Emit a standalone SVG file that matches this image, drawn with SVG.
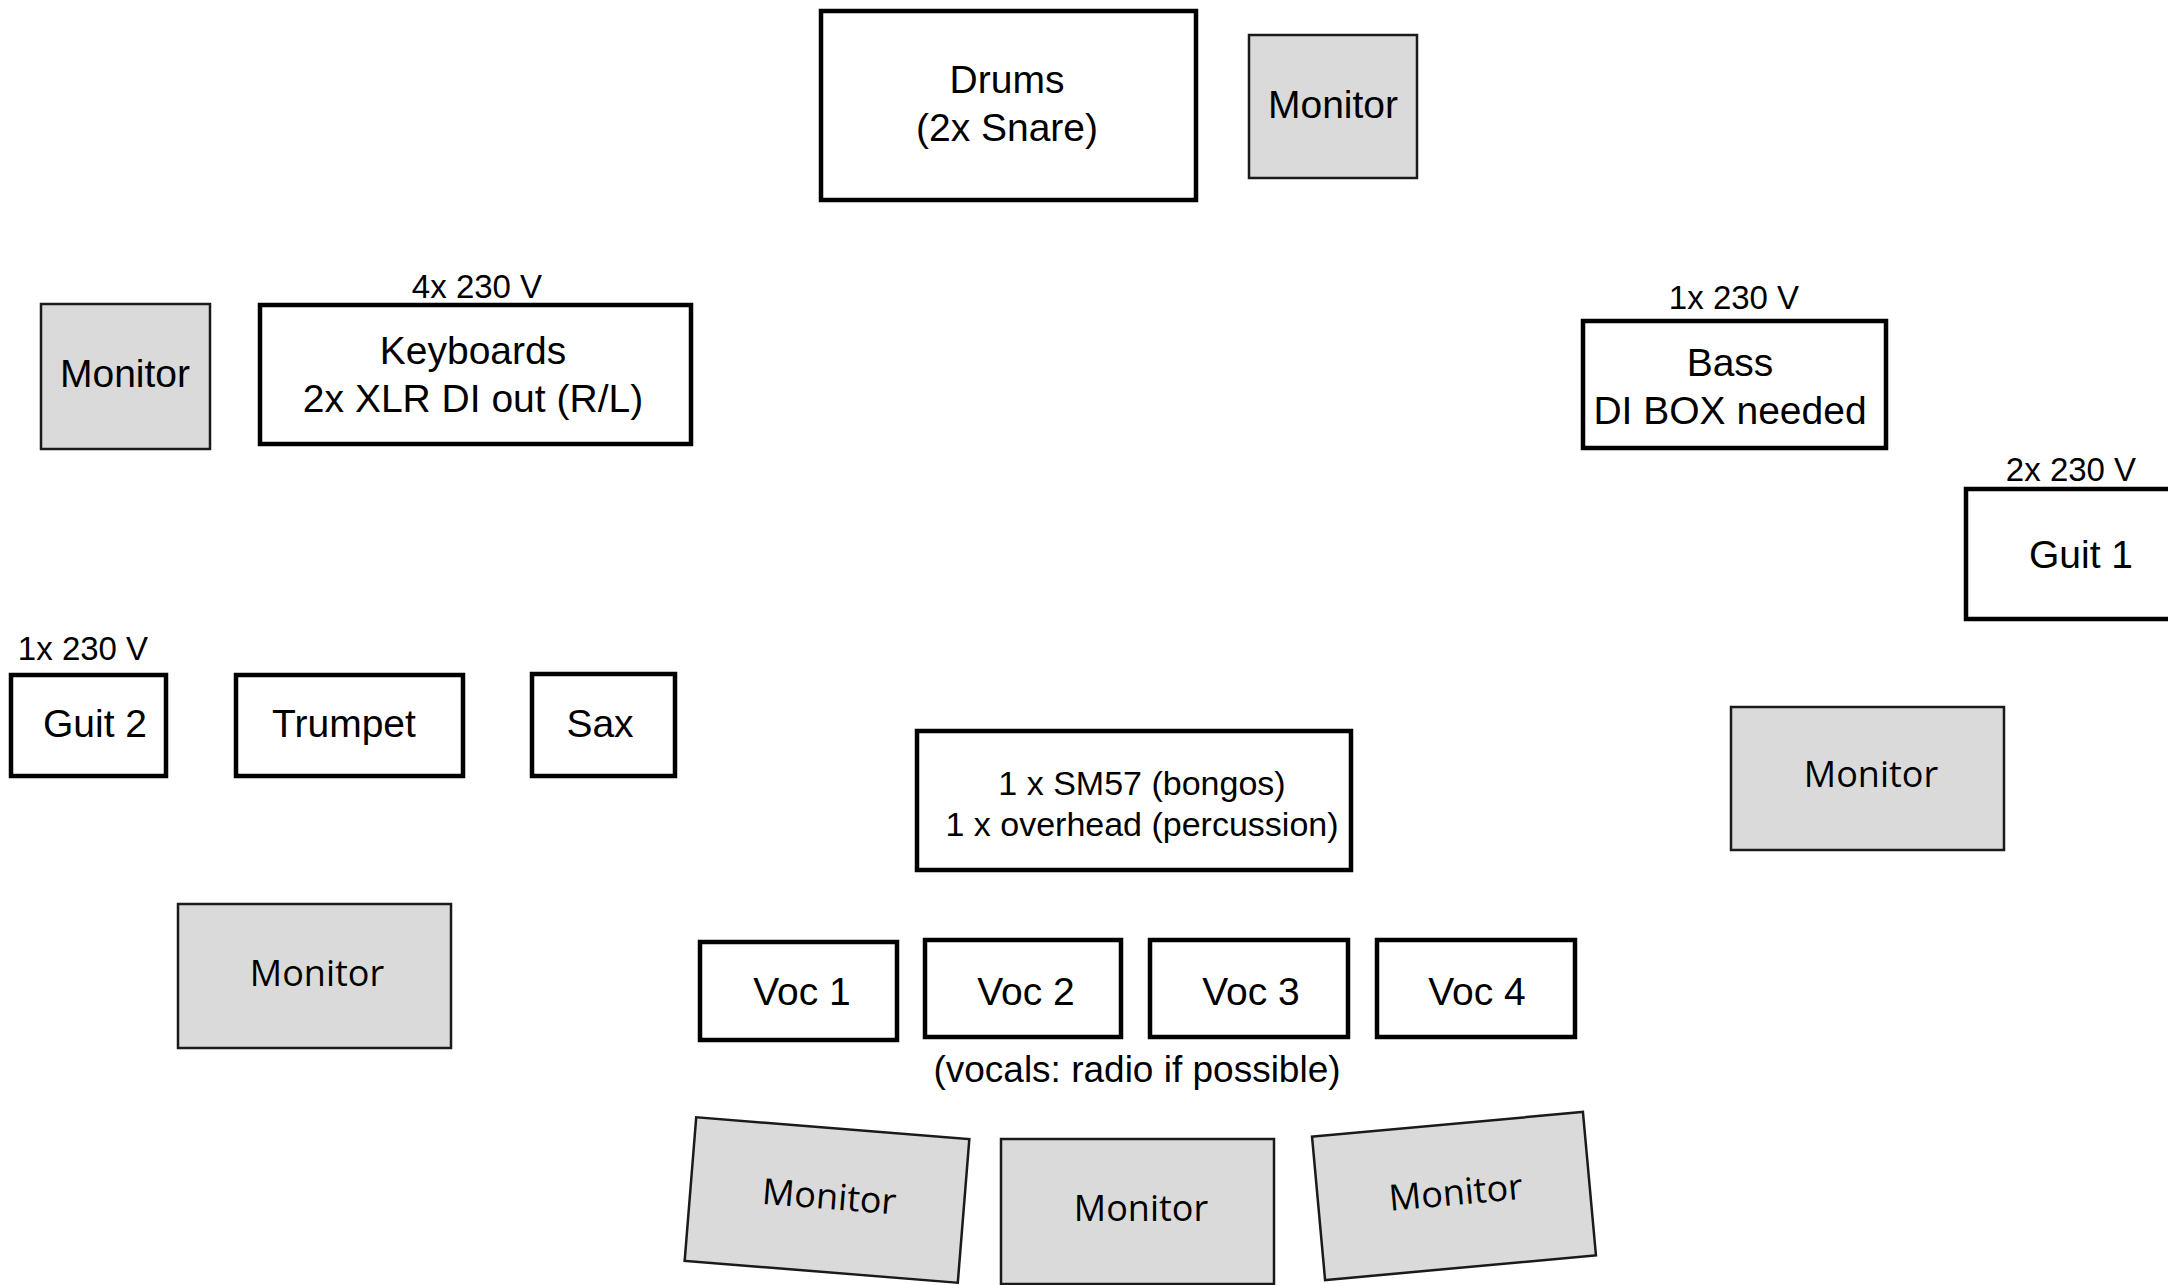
<svg xmlns="http://www.w3.org/2000/svg" width="2168" height="1285" viewBox="0 0 2168 1285">
<style>
.box{fill:#fff;stroke:#000;stroke-width:4.5}
.mon{fill:#dadada;stroke:#1a1a1a;stroke-width:2.5}
.t{font-family:"Liberation Sans",Arial,sans-serif;font-size:39px;fill:#000;text-anchor:middle}
.s{font-family:"Liberation Sans",Arial,sans-serif;font-size:33px;fill:#000;text-anchor:middle}
.p{font-family:"Liberation Sans",Arial,sans-serif;font-size:34px;fill:#000;text-anchor:middle}
.v{font-family:"Liberation Sans",Arial,sans-serif;font-size:37px;fill:#000;text-anchor:middle}
.m{font-family:"Open Sans","Noto Sans",sans-serif;font-size:36px;fill:#000;text-anchor:middle}
</style>
<rect width="2168" height="1285" fill="#fff"/>
<g id="drums"><rect class="box" x="821" y="11" width="375" height="189"/><text class="t" x="1007" y="93">Drums</text><text class="t" x="1007" y="141">(2x Snare)</text></g>
<g id="monitor-top"><rect class="mon" x="1249" y="35" width="168" height="143"/><text class="t" x="1333" y="118">Monitor</text></g>
<g id="monitor-left"><rect class="mon" x="41" y="304" width="169" height="145"/><text class="t" x="125" y="387">Monitor</text></g>
<g id="keyboards"><text class="s" x="477" y="298">4x 230 V</text><rect class="box" x="260" y="305" width="431" height="139"/><text class="t" x="473" y="364">Keyboards</text><text class="t" x="473" y="412">2x XLR DI out (R/L)</text></g>
<g id="bass"><text class="s" x="1734" y="309">1x 230 V</text><rect class="box" x="1583" y="321" width="303" height="127"/><text class="t" x="1730" y="376">Bass</text><text class="t" x="1730" y="424">DI BOX needed</text></g>
<g id="guit1"><text class="s" x="2071" y="481">2x 230 V</text><rect class="box" x="1966" y="489" width="214" height="130"/><text class="t" x="2081" y="568">Guit 1</text></g>
<g id="guit2"><text class="s" x="83" y="660">1x 230 V</text><rect class="box" x="11" y="675" width="155" height="101"/><text class="t" x="95" y="737">Guit 2</text></g>
<g id="trumpet"><rect class="box" x="236" y="675" width="227" height="101"/><text class="t" x="344" y="737">Trumpet</text></g>
<g id="sax"><rect class="box" x="532" y="674" width="143" height="102"/><text class="t" x="600" y="737">Sax</text></g>
<g id="percussion"><rect class="box" x="917" y="731" width="434" height="139"/><text class="p" x="1142" y="795">1 x SM57 (bongos)</text><text class="p" x="1142" y="836">1 x overhead (percussion)</text></g>
<g id="monitor-right"><rect class="mon" x="1731" y="707" width="273" height="143"/><text class="m" x="1871" y="787">Monitor</text></g>
<g id="monitor-bottom-left"><rect class="mon" x="178" y="904" width="273" height="144"/><text class="m" x="317" y="986">Monitor</text></g>
<g id="voc1"><rect class="box" x="700" y="942" width="197" height="98"/><text class="t" x="802" y="1005">Voc 1</text></g>
<g id="voc2"><rect class="box" x="925" y="940" width="196" height="97"/><text class="t" x="1026" y="1005">Voc 2</text></g>
<g id="voc3"><rect class="box" x="1150" y="940" width="198" height="97"/><text class="t" x="1251" y="1005">Voc 3</text></g>
<g id="voc4"><rect class="box" x="1377" y="940" width="198" height="97"/><text class="t" x="1477" y="1005">Voc 4</text></g>
<g id="vocals-note"><text class="v" x="1137" y="1082">(vocals: radio if possible)</text></g>
<g id="monitor-b1" transform="translate(827,1200) rotate(4.6)"><rect class="mon" x="-137" y="-72" width="274" height="144"/><text class="m" x="2" y="9">Monitor</text></g>
<g id="monitor-b2"><rect class="mon" x="1001" y="1139" width="273" height="145"/><text class="m" x="1141" y="1221">Monitor</text></g>
<g id="monitor-b3" transform="translate(1454,1196) rotate(-5.2)"><rect class="mon" x="-136" y="-72" width="272" height="144"/><text class="m" x="2" y="9">Monitor</text></g>
<g id="connectors"/>
</svg>
